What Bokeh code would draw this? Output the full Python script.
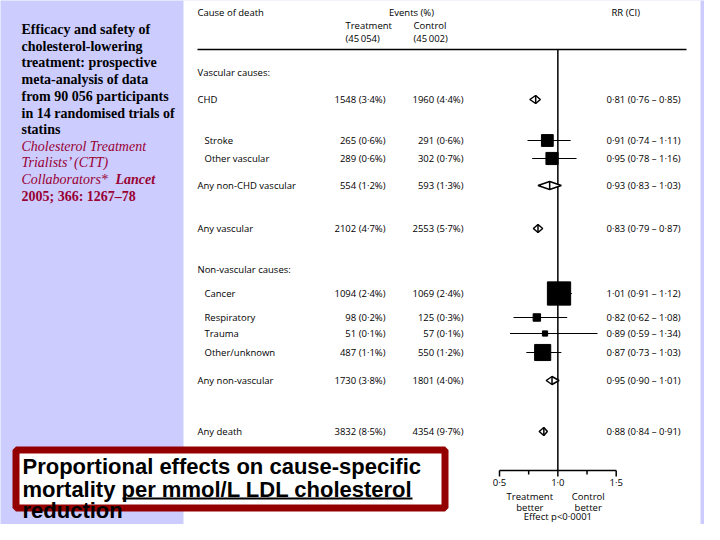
from bokeh.plotting import figure
from bokeh.models import Range1d
from bokeh.core.properties import value
from bokeh.embed import file_html
from bokeh.resources import INLINE
import math

# ---------------- data ----------------
causes = ["CHD", "Stroke", "Other vascular", "Any non-CHD vascular", "Any vascular",
          "Cancer", "Respiratory", "Trauma", "Other/unknown", "Any non-vascular", "Any death"]
is_subtotal = [True, False, False, True, True, False, False, False, False, True, True]
treat_events = [1548, 265, 289, 554, 2102, 1094, 98, 51, 487, 1730, 3832]
ctrl_events = [1960, 291, 302, 593, 2553, 1069, 125, 57, 550, 1801, 4354]
rr = [0.81, 0.91, 0.95, 0.93, 0.83, 1.01, 0.82, 0.89, 0.87, 0.95, 0.88]
rr_lo = [0.76, 0.74, 0.78, 0.83, 0.79, 0.91, 0.62, 0.59, 0.73, 0.90, 0.84]
rr_hi = [0.85, 1.11, 1.16, 1.03, 0.87, 1.12, 1.08, 1.34, 1.03, 1.01, 0.91]
n_treat = 45054
n_ctrl = 45002
section_labels = ["Vascular causes:", "Non-vascular causes:"]
axis_ticks = [0.5, 0.75, 1.0, 1.25, 1.5]
axis_tick_labels = ["0·5", "", "1·0", "", "1·5"]

title_lines = ["Efficacy and safety of", "cholesterol-lowering", "treatment: prospective",
               "meta-analysis of data", "from 90 056 participants",
               "in 14 randomised trials of", "statins"]
cite_italic = ["Cholesterol Treatment", "Trialists\u2019 (CTT)", "Collaborators*"]
cite_journal = "Lancet"
cite_ref = "2005; 366: 1267\u201378"
box_lines = ["Proportional effects on cause-specific", "mortality per mmol/L LDL cholesterol", "reduction"]

# ---------------- layout (picture pixels) ----------------
W, H = 704, 524
row_y = [99, 140, 158, 185, 228, 293, 317, 333, 352, 380, 431]
section_y = [72, 269]
LAV = "#CCCCFF"
CRIMSON = "#990033"
FONT = value("Open Sans")
FS = "9.5px"

# RR scale: 0.5 -> px 499, 1.5 -> px 615.7
px_a, px_b = 499.0, 615.7
per = (px_b - px_a) / 1.0
rr_start = 0.5 - px_a / per
rr_end = 1.5 + (W - px_b) / per

p = figure(width=W, height=H, x_range=Range1d(0, W), y_range=Range1d(H, 0),
           output_backend="svg", toolbar_location=None, min_border=0,
           x_axis_location=None, y_axis_location=None,
           background_fill_color=LAV, border_fill_color=LAV)
p.extra_x_ranges = {"rr": Range1d(rr_start, rr_end)}
p.grid.visible = False
p.outline_line_color = None

# white panel
p.quad(left=183, right=700, top=-10, bottom=H + 10, fill_color="white", line_color=None)

# ---- left title text ----
ty = [29, 46, 62, 79, 96, 113, 129]
p.text(x=21, y=ty, text=title_lines, text_font=value("Liberation Serif"), text_font_size="14px",
       text_font_style="bold", text_color="black", text_baseline="middle")
p.text(x=21, y=[146, 162, 179], text=cite_italic, text_font=value("Liberation Serif"),
       text_font_size="14px", text_font_style="italic", text_color=CRIMSON, text_baseline="middle")
p.text(x=115, y=[179], text=[cite_journal], text_font=value("Liberation Serif"),
       text_font_size="14px", text_font_style="bold italic", text_color=CRIMSON, text_baseline="middle")
p.text(x=21, y=[196], text=[cite_ref], text_font=value("Liberation Serif"),
       text_font_size="14px", text_font_style="bold", text_color=CRIMSON, text_baseline="middle")

# ---- headers ----
def txt(x, y, s, align="left"):
    p.text(x=[x], y=[y], text=[s], text_font=FONT, text_font_size=FS, text_color="black",
           text_baseline="middle", text_align=align)

def fmt_n(n):
    s = f"{n:,}".replace(",", "\u2009")
    return f"({s})"

txt(197, 12, "Cause of death")
txt(411, 12, "Events (%)", align="center")
txt(345, 25, "Treatment")
txt(413, 25, "Control")
txt(345, 38, fmt_n(n_treat))
txt(413, 38, fmt_n(n_ctrl))
txt(611, 12, "RR (CI)")
p.segment(x0=[197], x1=[686], y0=[49], y1=[49], line_color="black", line_width=1.5)

# ---- section labels ----
p.text(x=197, y=section_y, text=section_labels, text_font=FONT, text_font_size=FS,
       text_color="black", text_baseline="middle")

# ---- rows ----
def dot(v, d):
    return f"{v:.{d}f}".replace(".", "·")

lab_x = [197 if s else 204 for s in is_subtotal]
t_txt = [f"{e} ({dot(100 * e / n_treat, 1)}%)" for e in treat_events]
c_txt = [f"{e} ({dot(100 * e / n_ctrl, 1)}%)" for e in ctrl_events]
r_txt = [f"{dot(r, 2)} ({dot(l, 2)} \u2013 {dot(h, 2)})" for r, l, h in zip(rr, rr_lo, rr_hi)]

p.text(x=lab_x, y=row_y, text=causes, text_font=FONT, text_font_size=FS,
       text_color="black", text_baseline="middle")
p.text(x=385, y=row_y, text=t_txt, text_font=FONT, text_font_size=FS,
       text_color="black", text_baseline="middle", text_align="right")
p.text(x=463, y=row_y, text=c_txt, text_font=FONT, text_font_size=FS,
       text_color="black", text_baseline="middle", text_align="right")
p.text(x=606, y=row_y, text=r_txt, text_font=FONT, text_font_size=FS,
       text_color="black", text_baseline="middle")

# ---- reference line at 1.0 ----
ay = 470
p.segment(x0=[1.0], x1=[1.0], y0=[49], y1=[ay], x_range_name="rr", line_color="black", line_width=1.5)

# ---- individual squares with CIs ----
sq_idx = [i for i, s in enumerate(is_subtotal) if not s]
p.segment(x0=[rr_lo[i] for i in sq_idx], x1=[rr_hi[i] for i in sq_idx],
          y0=[row_y[i] for i in sq_idx], y1=[row_y[i] for i in sq_idx],
          x_range_name="rr", line_color="black", line_width=1)
sizes = [0.5 * math.sqrt(treat_events[i] + ctrl_events[i]) for i in sq_idx]
p.scatter(x=[rr[i] for i in sq_idx], y=[row_y[i] for i in sq_idx], size=sizes, marker="square",
          x_range_name="rr", fill_color="black", line_color="black")

# ---- subtotal diamonds ----
dh = 4
d_idx = [i for i, s in enumerate(is_subtotal) if s]
xs = [[rr_lo[i], rr[i], rr_hi[i], rr[i]] for i in d_idx]
ys = [[row_y[i], row_y[i] - dh, row_y[i], row_y[i] + dh] for i in d_idx]
p.patches(xs=xs, ys=ys, x_range_name="rr", fill_color="white", line_color="black", line_width=1.5)
p.segment(x0=[rr[i] for i in d_idx], x1=[rr[i] for i in d_idx],
          y0=[row_y[i] - dh for i in d_idx], y1=[row_y[i] + dh for i in d_idx],
          x_range_name="rr", line_color="black", line_width=1.5)

# ---- axis ----
p.segment(x0=[axis_ticks[0]], x1=[axis_ticks[-1]], y0=[ay], y1=[ay], x_range_name="rr",
          line_color="black", line_width=1.5)
tick_len = [6 if lab else 4 for lab in axis_tick_labels]
p.segment(x0=axis_ticks, x1=axis_ticks, y0=[ay] * len(axis_ticks), y1=[ay + t for t in tick_len],
          x_range_name="rr", line_color="black", line_width=1.5)
p.text(x=axis_ticks, y=[482] * len(axis_ticks), text=axis_tick_labels, x_range_name="rr",
       text_font=FONT, text_font_size=FS, text_color="black", text_baseline="middle", text_align="center")
p.text(x=[0.76, 1.26], y=[496, 496], text=["Treatment", "Control"], x_range_name="rr",
       text_font=FONT, text_font_size=FS, text_color="black", text_baseline="middle", text_align="center")
p.text(x=[0.76, 1.26], y=[507, 507], text=["better", "better"], x_range_name="rr",
       text_font=FONT, text_font_size=FS, text_color="black", text_baseline="middle", text_align="center")
p.text(x=[1.0], y=[516], text=["Effect p<0·0001"], x_range_name="rr",
       text_font=FONT, text_font_size=FS, text_color="black", text_baseline="middle", text_align="center")

# ---- red caption box ----
p.quad(left=15.5, right=444.5, top=449.5, bottom=507.5, fill_color="white",
       line_color="#940000", line_width=7)
p.text(x=22, y=[466, 489, 510], text=box_lines, text_font=value("Liberation Sans"),
       text_font_size="22px", text_font_style="bold", text_color="black", text_baseline="middle")
p.segment(x0=[122], x1=[412], y0=[498], y1=[498], line_color="black", line_width=2)

open("out.html", "w").write(file_html(p, INLINE))
